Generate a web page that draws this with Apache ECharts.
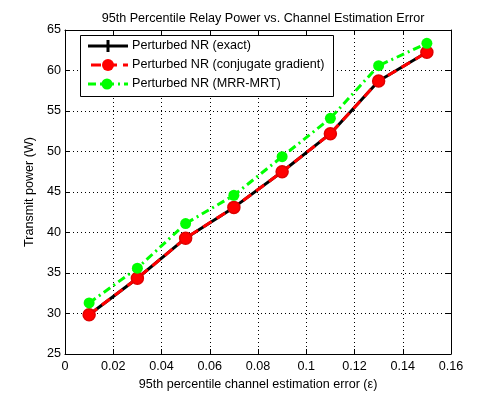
<!DOCTYPE html>
<html><head><meta charset="utf-8">
<script src="https://cdn.jsdelivr.net/npm/echarts@6/dist/echarts.min.js"></script>
<style>html,body{margin:0;padding:0;background:#fff}#c{width:498px;height:398px}</style>
</head><body><div id="c"></div>
<script>
const errors = [0.01, 0.03, 0.05, 0.07, 0.09, 0.11, 0.13, 0.15];
const exactNR = [29.85, 34.35, 39.3, 43.1, 47.5, 52.2, 58.7, 62.25];
const cgNR = [29.85, 34.35, 39.3, 43.1, 47.5, 52.2, 58.7, 62.25];
const mrrNR = [31.3, 35.6, 41.1, 44.6, 49.36, 54.1, 60.6, 63.35];
const seriesNames = ['Perturbed NR (exact)', 'Perturbed NR (conjugate gradient)', 'Perturbed NR (MRR-MRT)'];

const F = 'Liberation Sans, Arial, sans-serif';
const FS = 12.6;
const pairs = a => errors.map((x, i) => [x, a[i]]);
const chart = echarts.init(document.getElementById('c'));
const axisCommon = {
  axisLine: {show: true, onZero: false, lineStyle: {color: '#000', width: 1}},
  axisTick: {show: true, inside: true, length: 5, lineStyle: {color: '#000'}},
};
chart.setOption({
  animation: false,
  backgroundColor: '#fff',
  title: {text: '95th Percentile Relay Power vs. Channel Estimation Error', left: 258, textAlign: 'center', top: 7,
    textStyle: {fontFamily: F, fontSize: FS, fontWeight: 'normal', color: '#000'}},
  grid: {left: 65, top: 30, right: 47, bottom: 44, show: false},
  xAxis: [
    Object.assign({type: 'value', min: 0, max: 0.16, interval: 0.02, position: 'bottom',
      name: '95th percentile channel estimation error (\u03b5)', nameLocation: 'middle', nameGap: 23,
      nameTextStyle: {fontFamily: F, fontSize: FS, color: '#000'},
      axisLabel: {fontFamily: F, fontSize: FS, color: '#000', margin: 6,
        formatter: v => String(parseFloat(v.toFixed(2)))},
      splitLine: {show: true, lineStyle: {type: [1, 3], color: '#000', width: 1}}}, axisCommon),
    Object.assign({type: 'value', min: 0, max: 0.16, interval: 0.02, position: 'top',
      axisLabel: {show: false}, splitLine: {show: false}}, axisCommon)
  ],
  yAxis: [
    Object.assign({type: 'value', min: 25, max: 65, interval: 5, position: 'left',
      name: 'Transmit power (W)', nameLocation: 'middle', nameGap: 26,
      nameTextStyle: {fontFamily: F, fontSize: FS, color: '#000'},
      axisLabel: {fontFamily: F, fontSize: FS, color: '#000', margin: 4},
      splitLine: {show: true, lineStyle: {type: [1, 3], color: '#000', width: 1}}}, axisCommon),
    Object.assign({type: 'value', min: 25, max: 65, interval: 5, position: 'right',
      axisLabel: {show: false}, splitLine: {show: false}}, axisCommon)
  ],
  series: [
    {name: seriesNames[0], type: 'line', data: pairs(exactNR), symbol: 'circle', symbolSize: 4,
      itemStyle: {color: '#000'}, lineStyle: {color: '#000', width: 3}, z: 2},
    {name: seriesNames[1], type: 'line', data: pairs(cgNR), symbol: 'circle', symbolSize: 12,
      itemStyle: {color: '#f00', borderColor: '#e00000', borderWidth: 1.5}, lineStyle: {color: '#f00', width: 3, type: [10, 6]}, z: 3},
    {name: seriesNames[2], type: 'line', data: pairs(mrrNR), symbol: 'circle', symbolSize: 11,
      itemStyle: {color: '#0f0'}, lineStyle: {color: '#0f0', width: 3, type: [8, 4, 2, 4]}, z: 4}
  ],
  graphic: [
    {type: 'rect', shape: {x: 80.5, y: 35.5, width: 253, height: 61}, style: {fill: '#fff', stroke: '#000', lineWidth: 1}, z: 100},
    {type: 'line', shape: {x1: 88, y1: 46, x2: 128, y2: 46}, style: {stroke: '#000', lineWidth: 3}, z: 101},
    {type: 'line', shape: {x1: 108, y1: 40, x2: 108, y2: 52}, style: {stroke: '#000', lineWidth: 3}, z: 101},
    {type: 'line', shape: {x1: 91, y1: 65, x2: 128, y2: 65}, style: {stroke: '#f00', lineWidth: 3, lineDash: [10, 6]}, z: 101},
    {type: 'circle', shape: {cx: 108, cy: 65, r: 6}, style: {fill: '#f00'}, z: 102},
    {type: 'line', shape: {x1: 88, y1: 84, x2: 128, y2: 84}, style: {stroke: '#0f0', lineWidth: 3, lineDash: [8, 4, 2, 4]}, z: 101},
    {type: 'circle', shape: {cx: 107, cy: 84, r: 5.5}, style: {fill: '#0f0'}, z: 102},
    {type: 'text', x: 132, y: 46, style: {text: seriesNames[0], font: FS + 'px ' + F, fill: '#000', verticalAlign: 'middle'}, z: 101},
    {type: 'text', x: 132, y: 65, style: {text: seriesNames[1], font: FS + 'px ' + F, fill: '#000', verticalAlign: 'middle'}, z: 101},
    {type: 'text', x: 132, y: 84, style: {text: seriesNames[2], font: FS + 'px ' + F, fill: '#000', verticalAlign: 'middle'}, z: 101}
  ]
});
</script></body></html>
